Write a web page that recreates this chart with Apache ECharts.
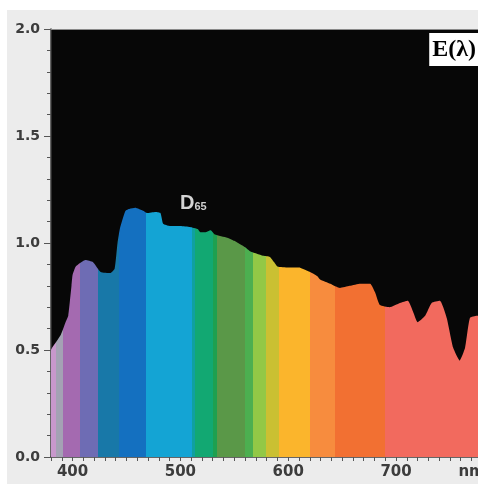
<!DOCTYPE html>
<html>
<head>
<meta charset="utf-8">
<script src="https://cdn.jsdelivr.net/npm/echarts@6/dist/echarts.min.js"></script>
<style>html,body{margin:0;padding:0;background:#fff;overflow:hidden;}#c{width:478px;height:484px;}</style>
</head>
<body>
<div id="c"></div>
<script>
// Data (wavelength in nm, relative spectral power of D65)
const wavelengths = [380, 381, 389, 393.5, 396, 399, 400, 403, 412, 419, 426, 435, 439, 441.7, 444, 449, 453, 458, 466, 469, 477, 481.5, 484, 490, 500, 509, 516, 518.5, 523, 528, 532, 543.5, 550, 560, 565, 571, 577, 583, 587, 590, 600, 610, 617.6, 622, 627, 629.6, 639, 648, 657, 667, 676, 680.5, 685, 694, 703.7, 711, 715.7, 720, 727, 733, 740.7, 747, 753, 759, 764, 768.5, 775, 776];
const irradiance = [0.50, 0.51, 0.57, 0.63, 0.66, 0.80, 0.85, 0.89, 0.92, 0.91, 0.865, 0.86, 0.88, 1.00, 1.07, 1.15, 1.16, 1.165, 1.15, 1.14, 1.145, 1.14, 1.09, 1.08, 1.08, 1.075, 1.065, 1.05, 1.05, 1.06, 1.04, 1.025, 1.01, 0.98, 0.96, 0.95, 0.94, 0.935, 0.91, 0.89, 0.885, 0.885, 0.87, 0.86, 0.845, 0.83, 0.81, 0.79, 0.80, 0.81, 0.81, 0.77, 0.71, 0.70, 0.72, 0.73, 0.68, 0.63, 0.66, 0.72, 0.73, 0.65, 0.51, 0.45, 0.51, 0.65, 0.66, 0.66];
const xTickLabels = {400: '400', 500: '500', 600: '600', 700: '700', 770: 'nm'};
const yTickLabels = ['0.0', '0.5', '1.0', '1.5', '2.0'];
const xMin = 380, xMax = 776;

// spectral band boundaries (nm) and colours (style)
const bandEdges = [380, 385, 391, 407, 424, 443, 468, 511, 514, 530.5, 534, 560, 567, 579, 591, 620, 643.5, 690, 776];
const bandColors = ['#c898cc', '#a4a2b4', '#a46ab0', '#6e6cb4', '#1878a8', '#1470c0', '#14a4d4', '#10a0a0', '#12a872', '#1ea050', '#5a9848', '#4caf50', '#92c846', '#cac032', '#fbb52c', '#f78c3e', '#f27032', '#f26a5e'];

const stops = [];
for (let i = 0; i < bandColors.length; i++) {
  stops.push({offset: (bandEdges[i] - xMin) / (xMax - xMin), color: bandColors[i]});
  stops.push({offset: (bandEdges[i + 1] - xMin) / (xMax - xMin), color: bandColors[i]});
}

const chart = echarts.init(document.getElementById('c'), null, {renderer: 'canvas'});
const labelFont = {color: '#3c3c3c', fontFamily: 'DejaVu Sans', fontWeight: 'bold', fontSize: 14};

chart.setOption({
  animation: false,
  backgroundColor: '#ffffff',
  graphic: [
    {type: 'rect', z: -10, shape: {x: 7, y: 10, width: 471, height: 474}, style: {fill: '#ececec'}},
    {type: 'text', right: 0, top: 33, z: 100,
      style: {text: 'E(λ)', font: 'bold 24px "Liberation Serif"', fill: '#000', backgroundColor: '#fff', padding: [5, 2, 4, 3]}},
    {type: 'text', left: 180, top: 193, z: 100,
      style: {rich: {d: {fontSize: 20, fontWeight: 'bold', fontFamily: 'Liberation Sans', fill: '#d4d4d4'}, s: {fontSize: 11, fontWeight: 'bold', fontFamily: 'Liberation Sans', fill: '#cfcfcf', padding: [8, 0, 0, 0]}},
        text: '{d|D}{s|65}'}}
  ],
  grid: {left: 51, right: 0, top: 29, bottom: 27, show: true, backgroundColor: '#070707', borderWidth: 0, containLabel: false, outerBoundsMode: 'none'},
  xAxis: [{
    type: 'value', min: xMin, max: xMax, interval: 10,
    axisLine: {show: true, lineStyle: {color: '#3a3a3a', width: 1.5}},
    axisTick: {show: true, length: 4, lineStyle: {color: '#555'}},
    splitLine: {show: false},
    axisLabel: Object.assign({}, labelFont, {margin: 8, fontSize: 15, showMaxLabel: false,
      formatter: v => xTickLabels[Math.round(v)] || ''})
  }, {
    type: 'value', position: 'top', min: xMin, max: xMax,
    axisLine: {show: true, lineStyle: {color: '#8a8a8a', width: 1}},
    axisTick: {show: false}, axisLabel: {show: false}, splitLine: {show: false}
  }],
  yAxis: {
    type: 'value', min: 0, max: 2, interval: 0.5,
    axisLine: {show: true, lineStyle: {color: '#3a3a3a', width: 1.5}},
    axisTick: {show: true, length: 7, lineStyle: {color: '#555'}},
    minorTick: {show: true, splitNumber: 5, length: 4, lineStyle: {color: '#555'}},
    splitLine: {show: false},
    axisLabel: Object.assign({}, labelFont, {margin: 11, formatter: (v, i) => yTickLabels[i]})
  },
  series: [{
    type: 'line',
    xAxisIndex: 0,
    data: wavelengths.map((w, i) => [w, irradiance[i]]),
    showSymbol: false,
    smooth: 0.15,
    lineStyle: {width: 0},
    areaStyle: {opacity: 1, color: new echarts.graphic.LinearGradient(0, 0, 1, 0, stops)}
  }]
});
</script>
</body>
</html>
